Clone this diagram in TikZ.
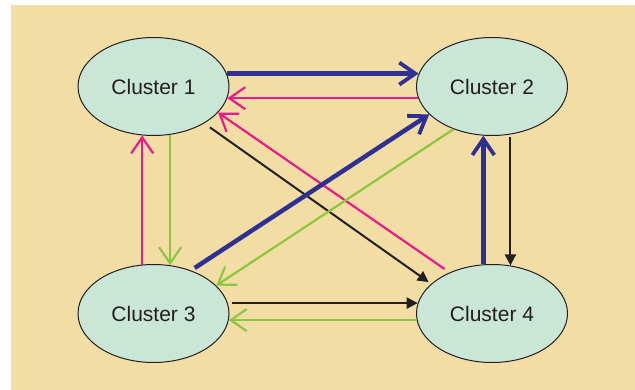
\documentclass[tikz,border=0pt]{standalone}
\usepackage{fontspec}
\setmainfont{Liberation Sans}
\usetikzlibrary{arrows.meta,shapes.geometric}
\definecolor{tanbg}{HTML}{F2DDA5}
\definecolor{mint}{HTML}{C9E6D6}
\definecolor{cblue}{HTML}{2E3192}
\definecolor{cpink}{HTML}{EC198C}
\definecolor{cgreen}{HTML}{8CC63F}
\definecolor{cblack}{HTML}{231F20}
\tikzset{
  cluster/.style={ellipse, draw=cblack, line width=1pt, fill=mint, minimum width=151pt, minimum height=98pt, inner sep=0pt, text=cblack, font=\fontsize{21}{25}\selectfont},
  bluearr/.style={draw=cblue, line width=4.5pt, -{Straight Barb[length=16pt,width=22pt,line width=3.8pt]}},
  pinkarr/.style={draw=cpink, line width=2.2pt, -{Straight Barb[length=16pt,width=22pt]}},
  greenarr/.style={draw=cgreen, line width=2.2pt, -{Straight Barb[length=16pt,width=22pt]}},
  blackarr/.style={draw=cblack, line width=2pt, -{Triangle[length=11pt,width=11pt]}}
}
\begin{document}
\begin{tikzpicture}[x=1pt,y=-1pt]
\useasboundingbox (0,0) rectangle (635,390);
\fill[white] (0,0) rectangle (635,390);
\fill[tanbg] (11,5) rectangle (635,390);
\node[cluster] (c1) at (153.5,86.5) {Cluster 1};
\node[cluster] (c2) at (492,86.5) {Cluster 2};
\node[cluster] (c3) at (153.5,313.5) {Cluster 3};
\node[cluster] (c4) at (492,313.5) {Cluster 4};
% horizontals
\draw[bluearr] (c1.10) -- (c2.170);
\draw[pinkarr] (c2.189) -- (c1.351);
\draw[blackarr, shorten <=4pt] (c3.8) -- (c4.172);
\draw[greenarr] (c4.185) -- (c3.355);
% verticals
\draw[pinkarr] (c3.103) -- (c1.257);
\draw[greenarr] (c1.289) -- (c3.71);
\draw[bluearr] (c4.100) -- (c2.260);
\draw[blackarr, shorten <=2pt] (c2.291) -- (c4.69);
% diagonals
\draw[blackarr, shorten <=7pt, shorten >=3pt] (c1.324) -- (c4.154);
\draw[pinkarr, shorten <=6pt] (c4.136) -- (c1.338);
\draw[greenarr] (c2.228) -- (c3.24);
\draw[bluearr, shorten <=4.5pt] (c3.49) -- (c2.204);
\end{tikzpicture}
\end{document}
